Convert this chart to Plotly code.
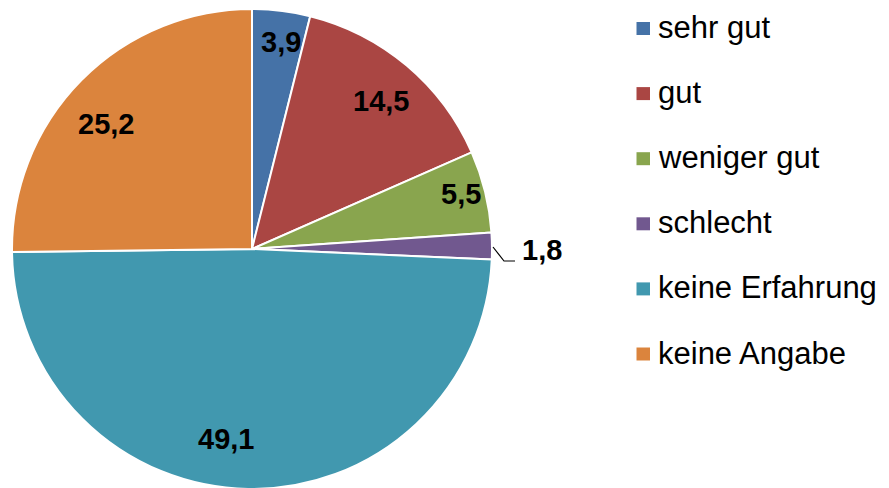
import math
import plotly.graph_objects as go

W, H = 889, 488
OFF = 8  # page body margin shifts the figure by 8px in the screenshot

categories = ["sehr gut", "gut", "weniger gut", "schlecht", "keine Erfahrung", "keine Angabe"]
values = [3.9, 14.5, 5.5, 1.8, 49.1, 25.2]
colors = ["#4572A7", "#AA4643", "#89A54E", "#71588F", "#4198AF", "#DB843D"]

# label placement (style): radial fraction and angular nudge in degrees
label_r = [0.87, 0.82, 0.90, 1.21, 0.80, 0.80]
label_da = [1, 1, -1, 1, 7, -4]

FONT = "Liberation Sans"
cx, cy, R = 252, 249, 240  # screen px


def fmt(v):
    return f"{v:.1f}".replace(".", ",")


def px(x):
    return (x - OFF) / W


def py(y):
    return 1 - (y - OFF) / H


fig = go.Figure()
fig.add_trace(go.Pie(
    labels=categories,
    values=values,
    textinfo="none",
    sort=False,
    direction="clockwise",
    rotation=0,
    marker=dict(colors=colors, line=dict(color="white", width=2)),
    domain=dict(x=[px(cx - R), px(cx + R)], y=[py(cy + R), py(cy - R)]),
    showlegend=False,
    hoverinfo="label+value",
))

# data labels at the slice mid-angles
total = sum(values)
cum = 0
for c, v, rf, da in zip(categories, values, label_r, label_da):
    mid = (cum + v / 2) / total * 360 + da
    cum += v
    lx = cx + rf * R * math.sin(math.radians(mid))
    ly = cy - rf * R * math.cos(math.radians(mid))
    fig.add_annotation(
        x=px(lx), y=py(ly), xref="paper", yref="paper",
        text=fmt(v), showarrow=False, xanchor="center", yanchor="middle",
        font=dict(family=FONT, size=29, color="black", weight="bold"),
    )

# leader line for the small slice
fig.add_shape(
    type="path", xref="paper", yref="paper",
    path=f"M {px(493)} {py(247)} L {px(504)} {py(261)} L {px(515)} {py(261)}",
    line=dict(color="black", width=1.2),
)

# legend drawn by hand to match the wide row spacing
row0, step = 28.5, 65.1
for k, (c, col) in enumerate(zip(categories, colors)):
    yc = row0 + k * step
    fig.add_shape(
        type="rect", xref="paper", yref="paper",
        x0=px(636.5), x1=px(650), y0=py(yc - 6.5), y1=py(yc + 6.5),
        fillcolor=col, line=dict(width=0),
    )
    fig.add_annotation(
        x=px(656), y=py(yc - 1), xref="paper", yref="paper",
        text=c, showarrow=False, xanchor="left", yanchor="middle",
        font=dict(family=FONT, size=31, color="black"),
    )

fig.update_layout(
    width=W, height=H,
    margin=dict(l=0, r=0, t=0, b=0),
    paper_bgcolor="white",
    plot_bgcolor="white",
)

fig.write_html("out.html")
